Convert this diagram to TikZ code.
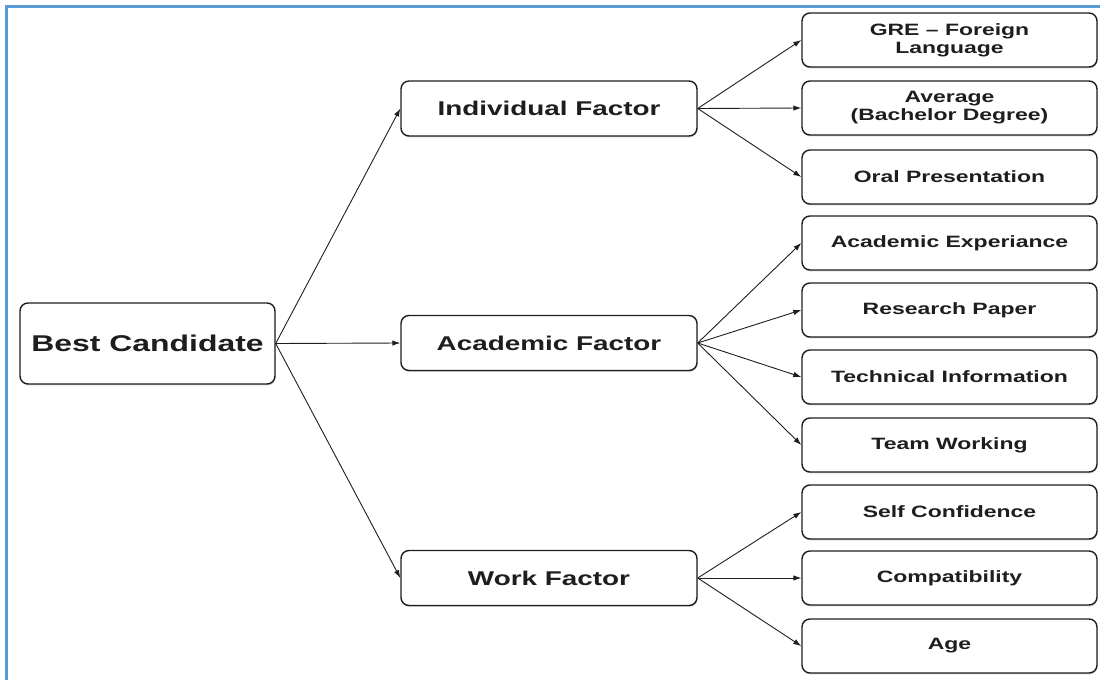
\documentclass[tikz,border=0pt]{standalone}
\usepackage{fontspec}
\setmainfont[FakeStretch=1.4]{Liberation Sans}
\usetikzlibrary{arrows.meta,shadows}
\definecolor{frameblue}{RGB}{91,155,213}
\definecolor{ink}{RGB}{30,30,30}
\begin{document}
\begin{tikzpicture}[x=1pt,y=-1pt,
  box/.style={draw=ink, line width=1.4pt, rounded corners=8pt, fill=white,
    align=center, inner sep=0pt, text=ink,
    drop shadow={shadow xshift=0.6pt, shadow yshift=-1.4pt, fill=black!35}},
  rootbox/.style={box, minimum width=255pt, minimum height=81pt,
    font=\fontsize{22.8}{26}\selectfont\bfseries},
  factorbox/.style={box, minimum width=296pt, minimum height=55pt,
    font=\fontsize{19.9}{22}\selectfont\bfseries},
  leafbox/.style={box, minimum width=295pt, minimum height=54pt,
    font=\fontsize{16.4}{18}\selectfont\bfseries},
  link/.style={-{Latex[length=8pt,width=5.5pt]}, line width=0.9pt, draw=ink}]

\useasboundingbox (0,0) rectangle (1100,680);

% page frame
\draw[frameblue, line width=2.6pt] (6.5,680) -- (6.5,6.5) -- (1100,6.5);

% root
\node[rootbox] (best) at (147.5,343.5) {Best Candidate};

% factors
\node[factorbox] (ind)  at (549,108.5) {Individual Factor};
\node[factorbox] (acad) at (549,343)   {Academic Factor};
\node[factorbox] (work) at (549,578)   {Work Factor};

% criteria
\node[leafbox] (gre)   at (949.5,40)  {GRE -- Foreign\\Language};
\node[leafbox] (avg)   at (949.5,108) {Average\\(Bachelor Degree)};
\node[leafbox] (oral)  at (949.5,177) {Oral Presentation};
\node[leafbox] (aexp)  at (949.5,243) {Academic Experiance};
\node[leafbox] (paper) at (949.5,310) {Research Paper};
\node[leafbox] (tech)  at (949.5,377) {Technical Information};
\node[leafbox] (team)  at (949.5,445) {Team Working};
\node[leafbox] (self)  at (949.5,512) {Self Confidence};
\node[leafbox] (comp)  at (949.5,578) {Compatibility};
\node[leafbox] (age)   at (949.5,646) {Age};

% connectors
\foreach \t in {ind,acad,work} \draw[link] (best.east) -- (\t.west);
\foreach \t in {gre,avg,oral} \draw[link] (ind.east) -- (\t.west);
\foreach \t in {aexp,paper,tech,team} \draw[link] (acad.east) -- (\t.west);
\foreach \t in {self,comp,age} \draw[link] (work.east) -- (\t.west);
\end{tikzpicture}
\end{document}
